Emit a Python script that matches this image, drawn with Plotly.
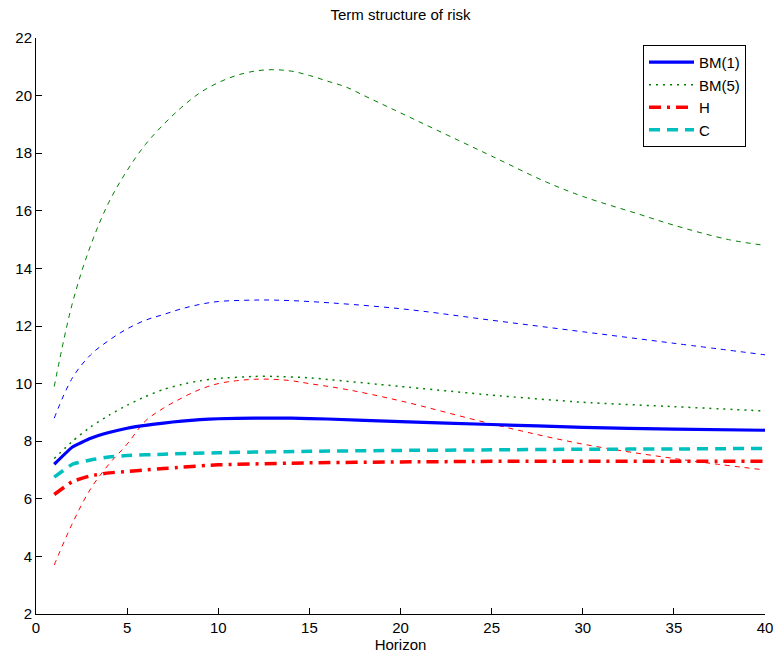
import plotly.graph_objects as go

bm1_x = [1, 2, 3, 4, 5, 6, 7, 8, 9, 10, 12, 14, 16, 20, 25, 30, 35, 40]
bm1 = [7.2, 7.8, 8.1, 8.3, 8.45, 8.55, 8.63, 8.7, 8.75, 8.78, 8.8, 8.8, 8.77, 8.68, 8.58, 8.48, 8.42, 8.38]

bm5_x = [1, 2, 3, 4, 5, 6, 7, 8, 9, 10, 12, 13, 15, 20, 25, 30, 35, 40]
bm5 = [7.4, 8.0, 8.5, 8.9, 9.25, 9.55, 9.8, 9.97, 10.1, 10.18, 10.25, 10.25, 10.2, 9.9, 9.6, 9.35, 9.2, 9.05]

h_x = [1, 2, 3, 4, 5, 6, 7, 8, 10, 15, 20, 25, 30, 35, 40]
h = [6.15, 6.6, 6.8, 6.9, 6.95, 7.0, 7.05, 7.1, 7.18, 7.25, 7.28, 7.3, 7.3, 7.3, 7.3]

c_x = [1, 2, 3, 4, 5, 7, 10, 15, 20, 25, 30, 35, 40]
c = [6.75, 7.2, 7.35, 7.45, 7.5, 7.55, 7.6, 7.65, 7.68, 7.7, 7.72, 7.73, 7.75]

green_band_x = [1, 2, 3, 4, 5, 6, 7, 8, 9, 10, 11, 12, 13, 14, 15, 16, 17, 18, 19, 20, 22, 25, 28, 30, 33, 35, 38, 40]
green_band = [9.9, 12.8, 14.8, 16.3, 17.4, 18.3, 19.0, 19.6, 20.1, 20.45, 20.7, 20.85, 20.9, 20.85, 20.7, 20.5, 20.3, 20.0, 19.7, 19.4, 18.8, 17.9, 17.0, 16.5, 15.9, 15.5, 15.0, 14.8]

blue_band_x = [1, 2, 3, 4, 5, 6, 7, 8, 9, 10, 12, 13, 15, 20, 25, 30, 35, 40]
blue_band = [8.8, 10.2, 11.0, 11.5, 11.9, 12.2, 12.4, 12.6, 12.75, 12.85, 12.9, 12.9, 12.85, 12.6, 12.2, 11.8, 11.4, 11.0]

red_band_x = [1, 2, 3, 4, 5, 6, 7, 8, 9, 10, 11, 12, 13, 14, 15, 17, 20, 25, 30, 35, 40]
red_band = [3.7, 5.15, 6.35, 7.2, 7.9, 8.7, 9.15, 9.5, 9.8, 10.0, 10.1, 10.15, 10.15, 10.1, 10.0, 9.8, 9.4, 8.6, 7.9, 7.4, 7.0]

x_ticks = [0, 5, 10, 15, 20, 25, 30, 35, 40]
y_ticks = [2, 4, 6, 8, 10, 12, 14, 16, 18, 20, 22]

fig = go.Figure()

# thin dashed bands (not in legend)
fig.add_trace(go.Scatter(x=green_band_x, y=green_band, mode="lines", showlegend=False,
                         line=dict(color="#008000", width=1, dash="5px,5px", shape="spline")))
fig.add_trace(go.Scatter(x=blue_band_x, y=blue_band, mode="lines", showlegend=False,
                         line=dict(color="#0000ff", width=1, dash="5px,5px", shape="spline")))
fig.add_trace(go.Scatter(x=red_band_x, y=red_band, mode="lines", showlegend=False,
                         line=dict(color="#ff0000", width=1, dash="5px,5px", shape="spline")))

fig.add_trace(go.Scatter(x=bm1_x, y=bm1, mode="lines", name="BM(1)",
                         line=dict(color="#0000ff", width=3.2, shape="spline", smoothing=0.35)))
fig.add_trace(go.Scatter(x=bm5_x, y=bm5, mode="lines", name="BM(5)",
                         line=dict(color="#008000", width=1.5, dash="2px,5px", shape="spline", smoothing=0.5)))
fig.add_trace(go.Scatter(x=h_x, y=h, mode="lines", name="H",
                         line=dict(color="#ff0000", width=3.5, dash="12px,6px,3px,6px", shape="spline", smoothing=0.35)))
fig.add_trace(go.Scatter(x=c_x, y=c, mode="lines", name="C",
                         line=dict(color="#00bfbf", width=3.5, dash="11px,7px", shape="spline", smoothing=0.35)))

font = "Liberation Sans, Arial, sans-serif"

W, H = 775, 656
L, R, T, B = 36, 10, 38, 42
plot_w = W - L - R

fig.update_layout(
    width=W, height=H,
    margin=dict(l=L, r=R, t=T, b=B),
    paper_bgcolor="white", plot_bgcolor="white",
    font=dict(family=font, size=15, color="black"),
    title=dict(text="Term structure of risk", x=(L + plot_w / 2) / W, xanchor="center",
               y=1 - 15 / H, yanchor="middle", font=dict(size=15)),
    legend=dict(x=(643 - 36) / 729, y=0.988, xanchor="left", yanchor="top",
                bgcolor="white", bordercolor="black", borderwidth=1,
                font=dict(size=15), tracegroupgap=0, itemwidth=45),
    xaxis=dict(range=[0, 40], tickvals=x_ticks, showgrid=False, zeroline=False,
               showline=True, linecolor="black", linewidth=1, automargin=False,
               ticks="inside", ticklen=6, tickcolor="black",
               title=dict(text="Horizon", standoff=4, font=dict(size=15)),
               tickfont=dict(size=15)),
    yaxis=dict(range=[2, 22], tickvals=y_ticks, showgrid=False, zeroline=False,
               showline=True, linecolor="black", linewidth=1, automargin=False,
               ticks="inside", ticklen=6, tickcolor="black",
               tickfont=dict(size=15)),
)

# remove the default page margin so the 775x656 figure fills the window exactly
fig.write_html("out.html",
               config={"displayModeBar": False},
               post_script="document.body.style.margin='0';document.body.style.overflow='hidden';")
